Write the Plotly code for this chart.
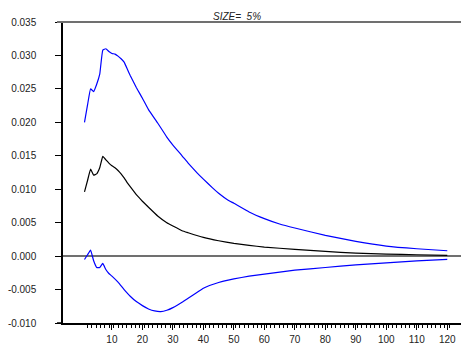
import numpy as np
import plotly.graph_objects as go

# Horizon (periods) at which values were read
periods_mid = [1, 2, 3, 4, 5, 6, 7, 8, 9, 10, 11, 12, 13, 14, 15, 16, 17, 18, 19, 20,
               22, 25, 28, 30, 33, 35, 40, 45, 50, 55, 60, 70, 80, 90, 100, 110, 120]
response = [0.0096, 0.0113, 0.0130, 0.0121, 0.0123, 0.0132, 0.0149, 0.0144, 0.0139, 0.0135,
            0.0132, 0.0128, 0.0123, 0.0117, 0.0110, 0.0104, 0.0098, 0.0092, 0.0087, 0.0082,
            0.0073, 0.0060, 0.0050, 0.0045, 0.0038, 0.0035, 0.0028, 0.0023, 0.0019, 0.0016,
            0.00135, 0.0010, 0.0007, 0.00045, 0.0003, 0.0002, 0.0001]

periods_up = [1, 2, 3, 4, 5, 6, 7, 8, 9, 10, 11, 12, 13, 14, 15, 16, 17, 18, 19, 20,
              22, 25, 28, 30, 33, 35, 38, 40, 43, 45, 48, 50, 55, 60, 65, 70, 80, 90, 100,
              110, 120]
upper = [0.0200, 0.0226, 0.0250, 0.0246, 0.0257, 0.0272, 0.0308, 0.0310, 0.0306, 0.0303,
         0.0302, 0.0299, 0.0295, 0.0290, 0.0280, 0.0270, 0.0261, 0.0252, 0.0244, 0.0236,
         0.0219, 0.0199, 0.0178, 0.0166, 0.0150, 0.0139, 0.0124, 0.0115, 0.0102, 0.0094,
         0.0084, 0.0079, 0.0066, 0.0056, 0.0048, 0.0042, 0.0031, 0.0022, 0.0015, 0.0011, 0.0008]

periods_lo = [1, 2, 3, 4, 5, 6, 7, 8, 9, 10, 12, 14, 16, 18, 20, 22, 24, 26, 28, 30,
              33, 35, 38, 40, 42, 45, 47, 50, 55, 60, 70, 80, 90, 100, 110, 120]
lower = [-0.0005, 0.0002, 0.0009, -0.0007, -0.0017, -0.0017, -0.0011, -0.0020, -0.0026, -0.0030,
         -0.0039, -0.0050, -0.0060, -0.0068, -0.0074, -0.0079, -0.0082, -0.0083, -0.0081, -0.0077,
         -0.0069, -0.0063, -0.0054, -0.0048, -0.0044, -0.00395, -0.0037, -0.0034, -0.0030, -0.0027,
         -0.0021, -0.0017, -0.0013, -0.0010, -0.0007, -0.0005]

x_ticks = [10, 20, 30, 40, 50, 60, 70, 80, 90, 100, 110, 120]
y_ticks = [-0.010, -0.005, 0.000, 0.005, 0.010, 0.015, 0.020, 0.025, 0.030, 0.035]
y_labels = ["%.3f" % v for v in y_ticks]
title_text = "SIZE=\u00a0 5%"

minor_vals = list(np.arange(2, 121, 10 / 7))

fig = go.Figure()
fig.add_trace(go.Scatter(x=periods_up, y=upper, mode="lines", line_shape="spline",
                         line=dict(color="#0000ff", width=1.2, smoothing=0.3), showlegend=False))
fig.add_trace(go.Scatter(x=periods_mid, y=response, mode="lines", line_shape="spline",
                         line=dict(color="#000000", width=1.2, smoothing=0.3), showlegend=False))
fig.add_trace(go.Scatter(x=periods_lo, y=lower, mode="lines", line_shape="spline",
                         line=dict(color="#0000ff", width=1.2, smoothing=0.3), showlegend=False))

font = dict(family="Liberation Sans, Arial, sans-serif", size=10, color="#222222")

fig.update_layout(
    width=461, height=345,
    margin=dict(l=63, r=0, t=22, b=15),
    paper_bgcolor="white", plot_bgcolor="white",
    font=font,
    xaxis=dict(range=[-6.05, 124.5], tickmode="array", tickvals=x_ticks,
               ticktext=[str(v) for v in x_ticks],
               ticks="outside", ticklen=5, tickwidth=1, tickcolor="#000",
               minor=dict(tickmode="array", tickvals=minor_vals, ticks="outside",
                          ticklen=3, tickcolor="#000", tickwidth=1, showgrid=False),
               showgrid=False, zeroline=False, showline=True, linecolor="#000",
               linewidth=1.5, tickfont=font, ticklabelstandoff=1, fixedrange=True),
    yaxis=dict(range=[-0.010, 0.035], tickmode="array", tickvals=y_ticks,
               ticktext=y_labels, ticks="outside", ticklen=6, tickwidth=1,
               tickcolor="#000", showgrid=False, zeroline=True, zerolinecolor="#707070",
               zerolinewidth=2, showline=True, linecolor="#000", linewidth=1.5,
               tickfont=font, ticklabelstandoff=17, fixedrange=True),
    shapes=[dict(type="line", xref="paper", yref="paper", x0=-6 / 398, x1=1,
                 y0=1, y1=1, line=dict(color="#707070", width=2)),
            dict(type="line", xref="paper", yref="paper", x0=-6 / 398, x1=0,
                 y0=0, y1=0, line=dict(color="#000000", width=1.5))],
    annotations=[dict(text=title_text, xref="paper", yref="paper", x=0.437, y=1,
                      xanchor="center", yanchor="bottom", yshift=-2, showarrow=False,
                      font=dict(family="Liberation Sans, Arial, sans-serif", size=10,
                                color="#222222", style="italic"))],
)

fig.write_html("out.html")
